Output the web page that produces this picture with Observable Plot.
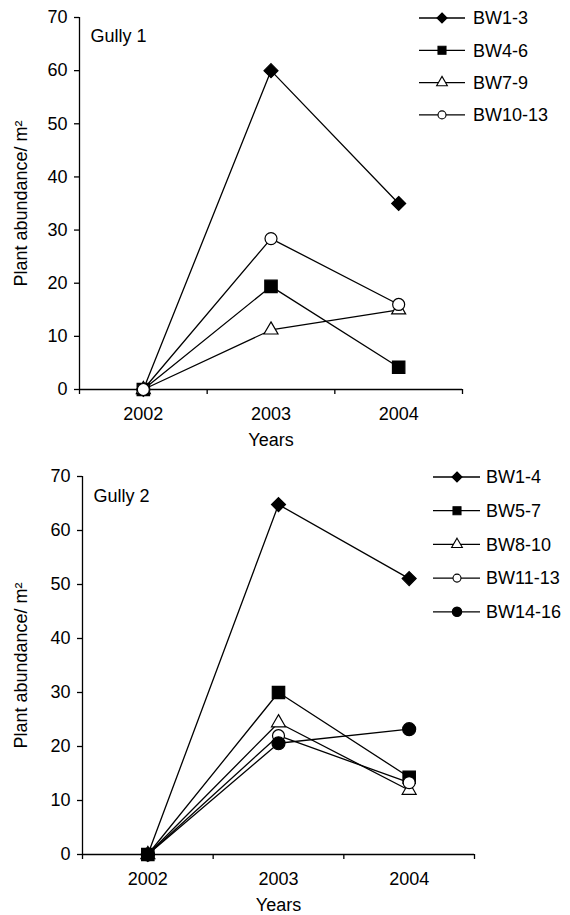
<!DOCTYPE html>
<html><head><meta charset="utf-8">
<script src="https://cdn.jsdelivr.net/npm/d3@7"></script>
<script src="https://cdn.jsdelivr.net/npm/@observablehq/plot@0.6"></script>
<style>
body{margin:0;background:#fff;font-family:"Liberation Sans",Arial,sans-serif;}
#wrap{position:relative;width:570px;height:915px;overflow:hidden;}
.panel{position:absolute;left:0;}
#legend{position:absolute;left:0;top:0;pointer-events:none;}
</style></head><body><div id="wrap"></div>
<script>
// ---- data ----
const years = ["2002", "2003", "2004"];
const yTicks = [0, 10, 20, 30, 40, 50, 60, 70];
const yLabel = "Plant abundance/ m²";
const xLabel = "Years";
const g1Title = "Gully 1";
const g1Names = ["BW1-3", "BW4-6", "BW7-9", "BW10-13"];
const g1Values = [[0, 60, 35], [0, 19.4, 4.2], [0, 11.2, 15.0], [0, 28.4, 16.0]];
const g2Title = "Gully 2";
const g2Names = ["BW1-4", "BW5-7", "BW8-10", "BW11-13", "BW14-16"];
const g2Values = [[0, 64.8, 51.1], [0, 30.0, 14.3], [0, 24.4, 11.9], [0, 22.0, 13.3], [0, 20.6, 23.2]];

// ---- styles (per series index) ----
const symbols = ["diamond2", "square", "triangle", "circle", "circle"];
const d3symbols = [d3.symbolDiamond2, d3.symbolSquare, d3.symbolTriangle, d3.symbolCircle, d3.symbolCircle];
const fills = ["black", "black", "white", "white", "black"];
const radii = [6.3, 7, 5.2, 6, 6.5];
const legendSizes = [64, 64, 50, 50, 70];
const FONT = "Liberation Sans, Arial, sans-serif";

const wrap = document.getElementById("wrap");

function panel(title, names, values, o) {
  const marks = [
    Plot.axisY({ticks: yTicks, tickSize: 5, tickPadding: 7, label: null, fontSize: 18, strokeWidth: 1.3}),
    Plot.axisX({ticks: years.map((_, j) => j), tickFormat: j => years[j], tickSize: 0, tickPadding: 18, label: null, fontSize: 18}),
    Plot.axisX({ticks: d3.range(years.length + 1).map(j => j - 0.5), tickFormat: () => "", tickSize: 5, label: null, strokeWidth: 1.3}),
    Plot.ruleX([-0.5], {strokeWidth: 1.3}),
    Plot.ruleY([0], {strokeWidth: 1.3}),
    Plot.text([title], {text: d => d, frameAnchor: "top-left", textAnchor: "start", lineAnchor: "top", dx: 11, dy: o.titleDy, fontSize: 18}),
    Plot.text([yLabel], {text: d => d, frameAnchor: "left", textAnchor: "middle", lineAnchor: "middle", rotate: -90, dx: o.yLabelDx, fontSize: 18}),
    Plot.text([xLabel], {text: d => d, frameAnchor: "bottom", lineAnchor: "top", dy: 44, fontSize: 18})
  ];
  names.forEach((n, i) => {
    const rows = values[i].map((v, j) => ({series: n, xi: j, value: v}));
    marks.push(Plot.line(rows, {x: "xi", y: "value", stroke: "black", strokeWidth: 1.3}));
    marks.push(Plot.dot(rows, {x: "xi", y: "value", symbol: symbols[i], r: radii[i], fill: fills[i], stroke: "black", strokeWidth: 1.2}));
  });
  const chart = Plot.plot({
    width: 570, height: o.height,
    marginLeft: o.ml, marginRight: o.mr, marginTop: o.mt, marginBottom: o.mb,
    style: {fontFamily: FONT, fontSize: "18px", color: "black", background: "white"},
    x: {type: "linear", domain: [-0.5, years.length - 0.5], axis: null},
    y: {domain: [0, 70], axis: null},
    marks
  });
  chart.classList.add("panel");
  chart.style.top = o.top + "px";
  wrap.appendChild(chart);
}

panel(g1Title, g1Names, g1Values, {top: 0, height: 455, ml: 79, mr: 108, mt: 17, mb: 66, titleDy: 12, yLabelDx: -58});
panel(g2Title, g2Names, g2Values, {top: 455, height: 460, ml: 82, mr: 96, mt: 21, mb: 61, titleDy: 13, yLabelDx: -61});

// ---- legends ----
const leg = d3.select(wrap).append("svg").attr("id", "legend").attr("width", 570).attr("height", 915)
  .style("font-family", FONT).style("font-size", "18px");
function legend(names, o) {
  names.forEach((n, i) => {
    const y = o.y0 + i * o.step;
    const g = leg.append("g");
    g.append("line").attr("x1", o.x1).attr("x2", o.x2).attr("y1", y).attr("y2", y).attr("stroke", "black").attr("stroke-width", 1.3);
    g.append("path").attr("d", d3.symbol(d3symbols[i], legendSizes[i])())
      .attr("transform", `translate(${o.mx},${y})`).attr("fill", fills[i]).attr("stroke", "black").attr("stroke-width", 1.1);
    g.append("text").attr("x", o.tx).attr("y", y).attr("dy", "0.35em").text(n);
  });
}
legend(g1Names, {y0: 18, step: 32.3, x1: 419, x2: 465, mx: 442, tx: 473});
legend(g2Names, {y0: 477, step: 33.7, x1: 433, x2: 480, mx: 457, tx: 486});
</script>
</body></html>
